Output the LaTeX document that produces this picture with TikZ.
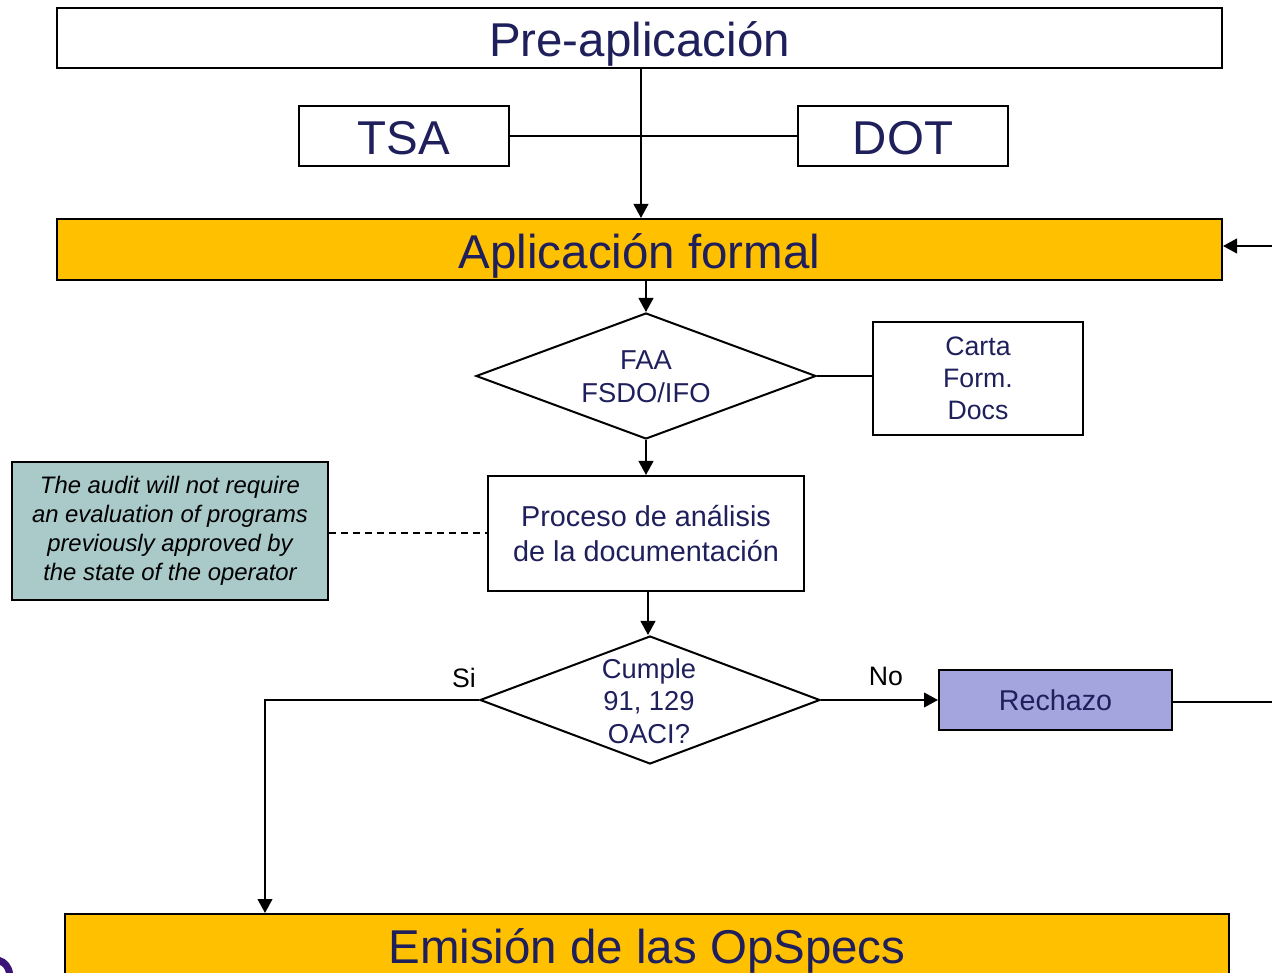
\documentclass[tikz,border=0pt]{standalone}
\usepackage{fontspec}
\setmainfont{Liberation Sans}
\usetikzlibrary{arrows.meta,shapes.geometric}
\definecolor{navy}{RGB}{31,31,92}
\definecolor{gold}{RGB}{255,192,0}
\definecolor{notefill}{RGB}{170,201,201}
\definecolor{rejfill}{RGB}{164,164,222}
\definecolor{blob}{RGB}{60,20,120}
\tikzset{
  box/.style={draw=black,line width=1.5pt,inner sep=0pt,text=navy,align=center},
  bigtxt/.style={font=\fontsize{35.6}{40}\selectfont,text height=28.5pt,text depth=0pt},
  midtxt/.style={font=\fontsize{20.5}{24.5}\selectfont},
  dia/.style={draw=black,line width=1.5pt,shape=diamond,inner sep=0pt},
  conn/.style={line width=1.5pt},
  arr/.style={line width=1.5pt,-{Triangle[length=10.5pt,width=11pt]}},
  lbl/.style={font=\fontsize{20}{24}\selectfont,text=black}
}
\begin{document}
\begin{tikzpicture}[x=0.75pt,y=-0.75pt]
\useasboundingbox (0,0) rectangle (1272,973);
\clip (0,0) rectangle (1272,973);

\node[box,bigtxt,minimum width=873.75pt,minimum height=45pt] (pre) at (639.5,38) {Pre-aplicación};
\node[box,bigtxt,minimum width=157.5pt,minimum height=45pt] (tsa) at (404,136) {TSA};
\node[box,bigtxt,minimum width=157.5pt,minimum height=45pt] (dot) at (903,136) {DOT};
\node[box,bigtxt,fill=gold,minimum width=873.75pt,minimum height=45.75pt] (apl) at (639.5,249.5) {Aplicación formal};

\node[dia,minimum width=255pt,minimum height=94.5pt] (d1) at (646,376) {};
\node[midtxt,text=navy,align=center,inner sep=0pt] (d1t) at (646,377) {FAA\\FSDO/IFO};

\node[box,minimum width=157.5pt,minimum height=84.75pt,font=\fontsize{20}{24}\selectfont] (carta) at (978,378.5) {Carta\\Form.\\Docs};

\node[box,minimum width=237pt,minimum height=86.25pt,font=\fontsize{21.6}{26.2}\selectfont] (proc) at (646,533.5) {Proceso de análisis\\de la documentación};

\node[box,fill=notefill,text=black,minimum width=237pt,minimum height=103.5pt,font=\fontsize{17.9}{21.75}\selectfont\itshape] (note) at (170,531) {The audit will not require\\an evaluation of programs\\previously approved by\\the state of the operator};

\node[dia,minimum width=255pt,minimum height=96pt] (d2) at (650,700) {};
\node[midtxt,text=navy,align=center,inner sep=0pt] (d2t) at (649,701) {Cumple\\91, 129\\OACI?};

\node[box,fill=rejfill,minimum width=174.75pt,minimum height=45pt,font=\fontsize{21.5}{26}\selectfont] (rech) at (1055.5,700) {Rechazo};

\node[box,bigtxt,fill=gold,minimum width=873pt,minimum height=45pt] (emi) at (647,944) {Emisión de las OpSpecs};

\coordinate (rin) at (1272,246);
\coordinate (rout) at (1272,702);
\coordinate (sic) at (265,701);

\draw[arr] ([xshift=1.1pt]pre.south) -- ([xshift=1.1pt]apl.north);
\draw[conn] (tsa.east) -- (dot.west);
\draw[arr] (rin) -- (rin -| apl.east);
\draw[arr] (d1.north |- apl.south) -- (d1.north);
\draw[conn] (d1.east) -- (d1.east -| carta.west);
\draw[arr] (d1.south) -- (proc.north);
\draw[line width=1.5pt,dash pattern=on 5pt off 4pt] (note.east |- proc.west) -- (proc.west);
\draw[arr] ([xshift=-1.5pt]d2.north |- proc.south) -- ([xshift=-1.5pt]d2.north);
\draw[arr] (d2.east) -- (d2.east -| rech.west);
\draw[conn] (rech.east |- rout) -- (rout);
\draw[arr] (d2.west) -- (d2.west -| sic) -- (sic |- emi.north);

\node[lbl] (si) at (464,678) {Si};
\node[lbl] (no) at (886,676) {No};

\fill[blob] (0,957) .. controls (7,959) and (12,965) .. (13,973) -- (6,973) .. controls (5,969) and (3,966) .. (0,965) -- cycle;
\end{tikzpicture}
\end{document}
